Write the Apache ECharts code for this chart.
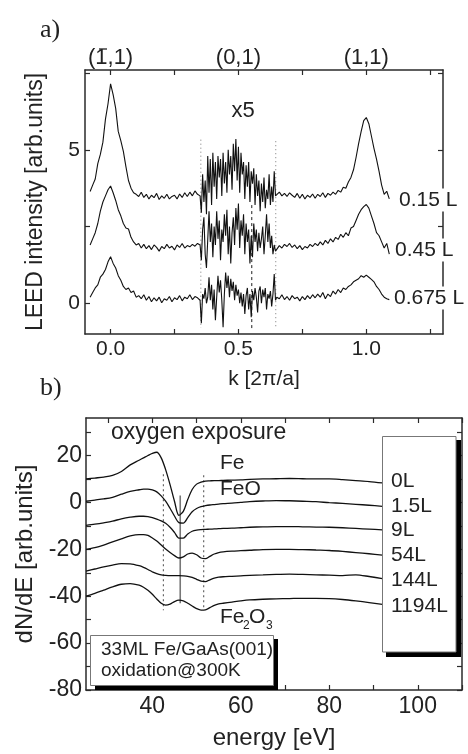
<!DOCTYPE html>
<html><head><meta charset="utf-8">
<script src="https://cdn.jsdelivr.net/npm/echarts@6/dist/echarts.min.js"></script>
<style>html,body{margin:0;padding:0;background:#fff}#c{width:468px;height:754px}</style>
</head><body><div id="c"></div>
<script>
// ---------- panel a) LEED profiles ----------
// k sampling: left part step 0.01 (-0.08..0.34), middle part step 0.005 (0.35..0.645), right part step 0.01 (0.65..1.09)
const kLeftRange = [-0.08, 0.34, 0.01];
const kMidRange = [0.35, 0.645, 0.005];
const kRightRange = [0.65, 1.09, 0.01];

const i015Left = [3.64, 3.85, 4.05, 4.55, 4.85, 5.25, 6.0, 6.5, 7.15, 6.8, 6.35, 5.6, 5.3, 4.95, 4.45, 4.0, 3.75, 3.6,
  3.55, 3.48, 3.62, 3.45, 3.55, 3.40, 3.52, 3.44, 3.58, 3.38, 3.50, 3.42, 3.55, 3.40, 3.48, 3.52, 3.40, 3.56, 3.45, 3.60, 3.48, 3.62, 3.50, 3.66, 3.55];
const i015Mid = [3.5, 2.95, 4.2, 3.3, 4.0, 2.9, 4.8, 3.6, 4.7, 3.2,
  4.9, 3.8, 4.6, 3.4, 4.8, 4.1, 4.7, 3.5, 4.9, 3.9,
  4.6, 3.6, 5.0, 4.2, 4.8, 3.7, 5.2, 4.3, 5.35, 4.0,
  5.1, 3.6, 4.9, 4.2, 4.6, 3.4, 4.5, 3.8, 4.6, 3.3,
  4.3, 3.9, 4.4, 3.2, 4.2, 3.5, 4.0, 3.0, 3.9, 3.3,
  4.1, 3.1, 3.7, 3.4, 4.2, 3.2, 3.8, 3.3, 4.3, 3.5];
const i015Right = [3.55, 3.62, 3.50, 3.58, 3.48, 3.60, 3.52, 3.45, 3.58,
  3.42, 3.55, 3.40, 3.52, 3.45, 3.56, 3.42, 3.55, 3.48,
  3.60, 3.45, 3.58, 3.52, 3.62, 3.55, 3.68, 3.62, 3.78,
  3.75, 3.95, 4.1, 4.35, 4.75, 5.2, 5.6, 5.95, 6.05,
  5.85, 5.45, 5.05, 4.7, 4.3, 3.85, 3.55, 3.65, 3.4];

const i045Left = [1.9, 2.1, 2.3, 2.6, 3.0, 3.3, 3.5, 3.7, 3.82, 3.6, 3.35, 3.05, 2.85, 2.6, 2.45, 2.42, 2.15, 2.0, 1.9,
  1.95, 1.80, 1.92, 1.78, 1.88, 1.75, 1.90, 1.82, 1.70, 1.85, 1.78, 1.92, 1.80, 1.86, 1.74, 1.90, 1.82, 1.95, 1.80, 1.88, 1.84, 1.92, 1.86, 1.95];
const i045Mid = [1.9, 1.4, 2.4, 2.8, 1.6, 1.15, 1.2, 3.0, 2.0, 2.6,
  1.5, 2.5, 1.9, 3.0, 2.1, 2.7, 1.4, 2.4, 2.0, 2.9,
  2.2, 3.05, 1.6, 2.5, 1.3, 2.3, 2.8, 1.9, 3.1, 2.4,
  3.25, 1.8, 2.7, 2.2, 2.9, 1.6, 2.6, 2.0, 2.4, 1.3,
  2.2, 1.5, 2.6, 2.0, 2.4, 1.7, 2.3, 1.8, 2.1, 2.5,
  1.6, 2.2, 2.9, 2.0, 2.6, 1.8, 2.2, 1.6, 1.9, 1.7];
const i045Right = [1.75, 1.88, 1.80, 1.92, 1.85, 1.95, 1.82, 1.90, 1.78,
  1.88, 1.75, 1.85, 1.80, 1.92, 1.85, 1.95, 1.88, 2.0,
  1.90, 2.05, 1.95, 2.1, 2.0, 2.15, 2.08, 2.25, 2.15,
  2.3, 2.2, 2.45, 2.5, 2.7, 2.9, 3.05, 3.15, 3.22,
  3.1, 2.85, 2.6, 2.3, 2.2, 2.0, 1.8, 1.95, 1.6];

const i0675Left = [0.2, 0.35, 0.5, 0.6, 0.85, 0.95, 1.1, 1.35, 1.52, 1.3, 1.15, 0.9, 0.75, 0.55, 0.45, 0.5, 0.35, 0.4, 0.2,
  0.25, 0.15, 0.28, 0.10, 0.22, 0.05, 0.18, 0.08, 0.20, 0.02, 0.15, 0.10, 0.22, 0.05, 0.18, 0.12, 0.25, 0.08, 0.20, 0.15, 0.28, 0.12, 0.22, 0.18];
const i0675Mid = [0.1, -0.65, 0.3, 0.15, 0.5, 0.0, 0.2, 0.85, 0.1, 0.6,
  -0.2, 0.45, -0.55, 0.2, 0.9, 0.35, 0.75, 0.1, -0.78, 0.3,
  1.0, 0.5, 0.9, 0.2, 0.8, 0.4, 0.7, 0.1, 0.6, 0.25,
  0.45, 0.0, 0.35, -0.1, 0.3, -0.35, 0.25, 0.5, -0.2, 0.3,
  -0.45, 0.4, 0.1, 0.5, 0.2, -0.3, 0.4, 0.55, 0.0, 0.45,
  0.2, 0.5, -0.2, 0.3, 0.15, 0.4, -0.1, 0.3, 0.95, 0.1];
const i0675Right = [0.2, 0.15, 0.28, 0.12, 0.22, 0.1, 0.25, 0.15, 0.2,
  0.08, 0.22, 0.12, 0.25, 0.15, 0.28, 0.18, 0.3, 0.2,
  0.35, 0.15, 0.3, 0.22, 0.4, 0.3, 0.45, 0.35, 0.5,
  0.45, 0.55, 0.6, 0.7, 0.75, 0.8, 0.9, 0.85, 0.92,
  0.85, 0.78, 0.7, 0.55, 0.45, 0.3, 0.2, 0.15, 0.12];

const leedLabels = ['0.15 L', '0.45 L', '0.675 L'];
// reference lines in panel a): [k, top, bottom]
const leedDotted = [[0.353, 5.33, -0.8], [0.646, 5.28, -0.83]];
const leedDashed = [[0.552, 3.2, -0.85]];
const kTickValues = [0, 0.25, 0.5, 0.75, 1.0, 1.25];
const kLabelValues = [0, 0.5, 1.0];
const spotLabels = ['(1,1)', '(0,1)', '(1,1)'];
const leedYTicks = [0, 2.5, 5, 7.5];
const leedYLabels = [0, 5];

// ---------- panel b) Auger dN/dE ----------
const energy = [25, 27, 29, 31, 33, 35, 37, 38, 39, 40, 41, 42, 43, 44, 45, 46, 47, 48, 49, 50, 51, 52, 53, 54, 55, 56, 58, 60, 62, 65, 68, 71, 74, 77, 80, 83, 86, 89, 92];
const aes0L = [10.0, 10.4, 10.8, 11.5, 13.2, 16.0, 18.0, 19.0, 20.0, 20.9, 21.4, 19.0, 14.0, 7.6, 0.5, -5.5, -3.8, 1.2, 5.5, 7.8, 8.7, 9.1, 9.2, 9.3, 9.3, 9.4, 9.5, 9.6, 9.8, 10.0, 10.1, 10.2, 10.1, 10.0, 10.0, 9.7, 9.3, 8.9, 8.3];
const aes1p5L = [0.5, 1.0, 1.5, 2.2, 3.5, 4.7, 5.4, 5.7, 5.7, 5.3, 4.5, 2.8, 0.5, -2.5, -5.8, -8.6, -8.8, -6.5, -4.0, -2.6, -1.8, -1.4, -1.1, -0.9, -0.7, -0.5, -0.3, 0.0, 0.3, 0.6, 0.8, 0.7, 0.5, 0.3, -0.1, -0.4, -0.8, -1.2, -1.7];
const aes9L = [-9.8, -9.3, -8.7, -8.0, -7.0, -6.3, -5.9, -5.9, -6.1, -6.5, -7.1, -7.9, -8.9, -10.6, -12.8, -15.2, -15.2, -13.5, -12.3, -11.8, -11.6, -11.5, -11.4, -11.3, -11.2, -11.1, -11.0, -10.8, -10.6, -10.4, -10.3, -10.3, -10.4, -10.5, -10.6, -10.8, -11.1, -11.4, -11.7];
const aes54L = [-20.0, -19.3, -18.2, -16.8, -15.5, -14.3, -13.7, -13.7, -14.1, -15.2, -16.5, -18.2, -19.9, -21.4, -22.7, -23.7, -23.2, -22.0, -21.6, -22.3, -23.7, -24.0, -23.0, -22.0, -21.4, -21.1, -20.8, -20.6, -20.4, -20.1, -20.0, -20.0, -20.1, -20.3, -20.5, -20.9, -21.4, -21.9, -22.5];
const aes144L = [-29.3, -28.4, -27.5, -26.7, -26.1, -26.2, -27.0, -27.7, -28.6, -29.6, -30.4, -30.9, -31.1, -31.2, -31.2, -31.2, -31.3, -31.5, -32.0, -32.8, -33.6, -33.8, -33.0, -32.3, -31.9, -31.7, -31.5, -31.3, -31.1, -30.9, -30.7, -30.6, -30.7, -30.9, -31.0, -31.2, -30.9, -31.6, -32.5];
const aes1194L = [-40.0, -38.8, -37.4, -36.0, -34.9, -34.6, -35.3, -36.2, -37.5, -39.2, -41.2, -43.0, -43.8, -43.4, -42.3, -41.7, -42.0, -43.0, -44.2, -45.3, -45.9, -45.8, -44.9, -43.9, -43.3, -43.0, -42.5, -42.0, -41.6, -41.3, -41.1, -41.0, -40.9, -40.9, -41.0, -41.4, -42.0, -42.7, -43.5];
const exposureLabels = ['0L', '1.5L', '9L', '54L', '144L', '1194L'];
// reference lines in panel b): [E, top, bottom]
const aesDotted = [[42.5, 12, -46], [51.6, 11.6, -46]];
const aesSolid = [[46.3, 3, -43]];
const eTickValues = [30, 40, 50, 60, 70, 80, 90, 100, 110];
const eLabelValues = [40, 60, 80, 100];
const aesYTicks = [-80, -70, -60, -50, -40, -30, -20, -10, 0, 10, 20, 30];
const aesYLabels = [-80, -60, -40, -20, 0, 20];

// ---------- build ----------
function range(a, b, s) { const out = []; for (let i = 0; ; i++) { const v = +(a + i * s).toFixed(4); if (v > b + 1e-9) break; out.push(v); } return out; }
const kAll = [...range(...kLeftRange), ...range(...kMidRange), ...range(...kRightRange)];
const leedSeries = [
  [...i015Left, ...i015Mid, ...i015Right],
  [...i045Left, ...i045Mid, ...i045Right],
  [...i0675Left, ...i0675Mid, ...i0675Right]
];
const aesSeries = [aes0L, aes1p5L, aes9L, aes54L, aes144L, aes1194L];

const FONT = 'Liberation Sans, Arial, sans-serif';
const AX = '#2a2a2a';
function axis(o) {
  return Object.assign({
    type: 'value', scale: false,
    axisLine: { show: true, onZero: false, lineStyle: { color: AX, width: 1.5 } },
    splitLine: { show: false },
    axisTick: { show: true, inside: true, length: 5, lineStyle: { color: AX, width: 1.2 } },
    axisLabel: { show: false }
  }, o);
}
function lbl(vals, size, margin, fmt) {
  return { show: true, customValues: vals, fontSize: size, fontFamily: FONT, color: '#222', margin: margin, formatter: fmt };
}
function ticks(vals) { return { show: true, inside: true, length: 5, customValues: vals, lineStyle: { color: AX, width: 1.2 } }; }

const series = [];
leedSeries.forEach((vals, i) => {
  series.push({ type: 'line', xAxisIndex: 0, yAxisIndex: 0, showSymbol: false, silent: true,
    lineStyle: { color: '#111', width: 1.1 }, data: kAll.map((k, j) => [k, vals[j]]), z: 3 });
});
leedDotted.forEach(l => series.push({ type: 'line', xAxisIndex: 0, yAxisIndex: 0, showSymbol: false, silent: true,
  lineStyle: { color: '#777', width: 1, type: [1, 3] }, data: [[l[0], l[1]], [l[0], l[2]]], z: 2 }));
leedDashed.forEach(l => series.push({ type: 'line', xAxisIndex: 0, yAxisIndex: 0, showSymbol: false, silent: true,
  lineStyle: { color: '#444', width: 1.2, type: [3, 3] }, data: [[l[0], l[1]], [l[0], l[2]]], z: 2 }));
aesSeries.forEach(vals => series.push({ type: 'line', xAxisIndex: 2, yAxisIndex: 2, showSymbol: false, silent: true, smooth: 0.3,
  lineStyle: { color: '#111', width: 1.3 }, data: energy.map((e, j) => [e, vals[j]]), z: 3 }));
aesDotted.forEach(l => series.push({ type: 'line', xAxisIndex: 2, yAxisIndex: 2, showSymbol: false, silent: true,
  lineStyle: { color: '#666', width: 1.2, type: [2, 3] }, data: [[l[0], l[1]], [l[0], l[2]]], z: 2 }));
aesSolid.forEach(l => series.push({ type: 'line', xAxisIndex: 2, yAxisIndex: 2, showSymbol: false, silent: true,
  lineStyle: { color: '#777', width: 1.6 }, data: [[l[0], l[1]], [l[0], l[2]]], z: 2 }));

const txt = (x, y, s, size, extra) => Object.assign({ type: 'text', x: x, y: y, z: 110,
  style: Object.assign({ text: s, fontSize: size, fontFamily: FONT, fill: '#222', verticalAlign: 'middle', align: 'left' }, extra || {}) });

const graphic = [
  txt(40, 30, 'a)', 26, { fontFamily: 'Liberation Serif, Times New Roman, serif' }),
  txt(40, 388, 'b)', 26, { fontFamily: 'Liberation Serif, Times New Roman, serif' }),
  txt(243, 111, 'x5', 22, { align: 'center' }),
  { type: 'line', z: 110, shape: { x1: 99, y1: 49, x2: 107, y2: 49 }, style: { stroke: '#222', lineWidth: 1.3 } },
  txt(398, 200, leedLabels[0], 21, { backgroundColor: '#fff', padding: [1, 1] }),
  txt(394, 250, leedLabels[1], 21, { backgroundColor: '#fff', padding: [1, 1] }),
  txt(393, 298, leedLabels[2], 21, { backgroundColor: '#fff', padding: [1, 1] }),
  txt(111, 433, 'oxygen exposure', 23),
  txt(220, 463, 'Fe', 21),
  txt(220, 489, 'FeO', 21),
  txt(220, 617, 'Fe', 21),
  txt(243, 626, '2', 12),
  txt(249, 617, 'O', 21),
  txt(266, 626, '3', 12),
  // exposure box
  { type: 'rect', z: 100, shape: { x: 386, y: 440, width: 75, height: 217 }, style: { fill: '#000' } },
  { type: 'rect', z: 101, shape: { x: 382.5, y: 436.5, width: 73.5, height: 215.5 }, style: { fill: '#fff', stroke: '#777', lineWidth: 1 } },
  // sample box
  { type: 'rect', z: 100, shape: { x: 95, y: 639, width: 183, height: 51 }, style: { fill: '#000' } },
  { type: 'rect', z: 101, shape: { x: 90.5, y: 635.5, width: 183, height: 50 }, style: { fill: '#fff', stroke: '#777', lineWidth: 1 } },
  txt(101, 649.5, '33ML Fe/GaAs(001)', 19),
  txt(101, 670.5, 'oxidation@300K', 19)
];
const boxY = [481.5, 506, 530.5, 555.5, 580.5, 606.5];
exposureLabels.forEach((s, i) => graphic.push(txt(391, boxY[i], s, 21)));

const option = {
  animation: false,
  backgroundColor: '#fff',
  textStyle: { fontFamily: FONT },
  grid: [
    { left: 85, top: 70, width: 358, height: 264 },
    { left: 86, top: 418, width: 376, height: 272 }
  ],
  xAxis: [
    axis({ gridIndex: 0, position: 'bottom', min: -0.1, max: 1.3,
      axisTick: ticks(kTickValues), axisLabel: lbl(kLabelValues, 21, 5, v => v.toFixed(1)),
      name: 'k [2π/a]', nameLocation: 'middle', nameGap: 35, nameTextStyle: { fontSize: 21, fontFamily: FONT, color: '#222' } }),
    axis({ gridIndex: 0, position: 'top', min: -0.1, max: 1.3,
      axisTick: ticks(kTickValues), axisLabel: lbl(kLabelValues, 22, 1, v => spotLabels[kLabelValues.findIndex(p => Math.abs(p - v) < 1e-6)]) }),
    axis({ gridIndex: 1, position: 'bottom', min: 25, max: 110,
      axisTick: ticks(eTickValues), axisLabel: lbl(eLabelValues, 23, 5, v => String(v)),
      name: 'energy [eV]', nameLocation: 'middle', nameGap: 36, nameTextStyle: { fontSize: 24, fontFamily: FONT, color: '#222' } }),
    axis({ gridIndex: 1, position: 'top', min: 25, max: 110, axisTick: ticks(eTickValues) })
  ],
  yAxis: [
    axis({ gridIndex: 0, position: 'left', min: -1, max: 7.6,
      axisTick: ticks(leedYTicks), axisLabel: lbl(leedYLabels, 21, 5, v => String(v)),
      name: 'LEED intensity [arb.units]', nameLocation: 'middle', nameGap: 38, nameTextStyle: { fontSize: 23, fontFamily: FONT, color: '#222' } }),
    axis({ gridIndex: 0, position: 'right', min: -1, max: 7.6, axisTick: ticks(leedYTicks) }),
    axis({ gridIndex: 1, position: 'left', min: -80, max: 36,
      axisTick: ticks(aesYTicks), axisLabel: lbl(aesYLabels, 23, 4, v => String(v)),
      name: 'dN/dE [arb.units]', nameLocation: 'middle', nameGap: 46, nameTextStyle: { fontSize: 24, fontFamily: FONT, color: '#222' } }),
    axis({ gridIndex: 1, position: 'right', min: -80, max: 36, axisTick: ticks(aesYTicks) })
  ],
  series: series,
  graphic: graphic
};
const chart = echarts.init(document.getElementById('c'), null, { renderer: 'canvas' });
chart.setOption(option);
</script></body></html>
